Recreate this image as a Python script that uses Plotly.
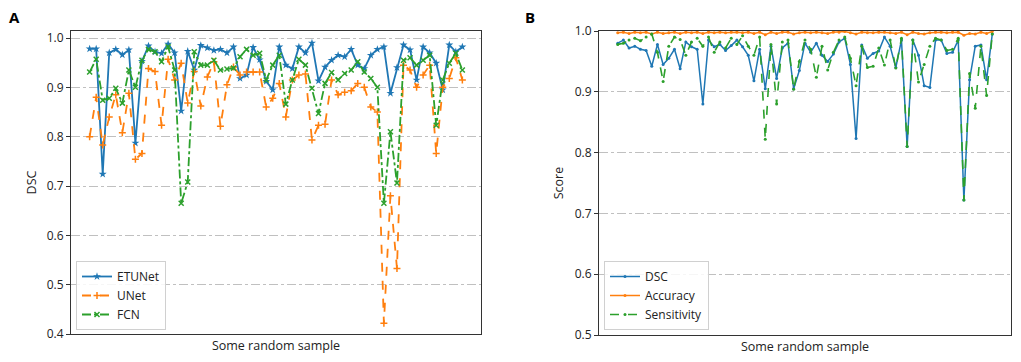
import plotly.graph_objects as go

# ---------------- Panel A data ----------------
etunet = [0.978, 0.978, 0.724, 0.970, 0.977, 0.966, 0.976, 0.787, 0.953, 0.984,
          0.972, 0.969, 0.988, 0.970, 0.852, 0.973, 0.935, 0.985, 0.980, 0.975,
          0.977, 0.970, 0.982, 0.918, 0.925, 0.981, 0.956, 0.912, 0.895, 0.982,
          0.945, 0.938, 0.982, 0.970, 0.990, 0.913, 0.941, 0.955, 0.965, 0.962,
          0.977, 0.945, 0.938, 0.965, 0.977, 0.982, 0.888, 0.940, 0.986, 0.976,
          0.915, 0.982, 0.970, 0.949, 0.895, 0.986, 0.972, 0.982]
unet = [0.800, 0.880, 0.783, 0.840, 0.885, 0.808, 0.888, 0.754, 0.766, 0.938,
        0.932, 0.823, 0.957, 0.915, 0.949, 0.868, 0.932, 0.862, 0.921, 0.952,
        0.821, 0.905, 0.941, 0.925, 0.931, 0.931, 0.931, 0.860, 0.878, 0.908,
        0.840, 0.915, 0.925, 0.927, 0.793, 0.823, 0.825, 0.915, 0.885, 0.890,
        0.893, 0.908, 0.900, 0.860, 0.850, 0.422, 0.680, 0.533, 0.945, 0.935,
        0.900, 0.925, 0.945, 0.766, 0.900, 0.918, 0.960, 0.915]
fcn = [0.931, 0.957, 0.874, 0.878, 0.898, 0.868, 0.935, 0.900, 0.955, 0.977,
       0.972, 0.952, 0.982, 0.935, 0.665, 0.708, 0.972, 0.945, 0.945, 0.955,
       0.935, 0.937, 0.939, 0.962, 0.977, 0.965, 0.969, 0.915, 0.945, 0.965,
       0.866, 0.915, 0.957, 0.945, 0.898, 0.847, 0.908, 0.930, 0.915, 0.928,
       0.935, 0.952, 0.931, 0.918, 0.900, 0.665, 0.810, 0.706, 0.955, 0.960,
       0.945, 0.955, 0.965, 0.823, 0.915, 0.949, 0.969, 0.935]

# ---------------- Panel B data ----------------
dsc_b = [0.980, 0.985, 0.972, 0.975, 0.970, 0.968, 0.942, 0.978, 0.945, 0.955,
         0.970, 0.938, 0.982, 0.974, 0.970, 0.880, 0.985, 0.974, 0.978, 0.968,
         0.976, 0.985, 0.974, 0.960, 0.918, 0.970, 0.905, 0.975, 0.922, 0.972,
         0.980, 0.905, 0.935, 0.980, 0.965, 0.980, 0.960, 0.950, 0.962, 0.982,
         0.988, 0.945, 0.823, 0.977, 0.955, 0.963, 0.967, 0.990, 0.975, 0.940,
         0.985, 0.810, 0.985, 0.960, 0.910, 0.907, 0.985, 0.985, 0.963, 0.965,
         0.985, 0.722, 0.920, 0.975, 0.977, 0.920, 0.995]
acc_b = [0.997, 0.998, 0.996, 0.998, 0.997, 0.998, 0.995, 0.998, 0.996, 0.997,
         0.998, 0.996, 0.998, 0.997, 0.998, 0.996, 0.998, 0.997, 0.998, 0.997,
         0.998, 0.998, 0.997, 0.998, 0.996, 0.998, 0.994, 0.998, 0.996, 0.998,
         0.998, 0.995, 0.997, 0.998, 0.997, 0.998, 0.997, 0.996, 0.998, 0.998,
         0.999, 0.997, 0.995, 0.998, 0.997, 0.997, 0.998, 0.998, 0.997, 0.996,
         0.998, 0.994, 0.998, 0.996, 0.995, 0.997, 0.998, 0.998, 0.997, 0.998,
         0.998, 0.993, 0.996, 0.995, 0.998, 0.996, 0.999]
sens_b = [0.978, 0.980, 0.985, 0.988, 0.984, 0.990, 0.995, 0.965, 0.917, 0.975,
          0.990, 0.986, 0.960, 0.982, 0.988, 0.975, 0.990, 0.965, 0.982, 0.972,
          0.988, 0.978, 0.992, 0.975, 0.960, 0.990, 0.822, 0.978, 0.880, 0.982,
          0.985, 0.904, 0.950, 0.985, 0.970, 0.924, 0.975, 0.936, 0.965, 0.985,
          0.990, 0.955, 0.910, 0.975, 0.940, 0.942, 0.972, 0.944, 0.985, 0.939,
          0.988, 0.810, 0.985, 0.916, 0.945, 0.975, 0.988, 0.985, 0.968, 0.970,
          0.988, 0.722, 0.930, 0.873, 0.975, 0.894, 0.995]

yticks_a = [0.4, 0.5, 0.6, 0.7, 0.8, 0.9, 1.0]
yticks_b = [0.5, 0.6, 0.7, 0.8, 0.9, 1.0]

BLUE, ORANGE, GREEN = "#1f77b4", "#ff7f0e", "#2ca02c"
FONT = "Open Sans"
W, H = 1021, 362
OFF = 8  # page body margin


def px(x):
    return (x - OFF) / W


def py(y):
    return (H - (y - OFF)) / H


fig = go.Figure()

fig.add_trace(go.Scatter(x=list(range(len(etunet))), y=etunet, name="ETUNet", mode="lines+markers",
                         line=dict(color=BLUE, width=1.8),
                         marker=dict(symbol="star", size=6, color=BLUE),
                         xaxis="x", yaxis="y", legend="legend"))
fig.add_trace(go.Scatter(x=list(range(len(unet))), y=unet, name="UNet", mode="lines+markers",
                         line=dict(color=ORANGE, width=1.8, dash="dash"),
                         marker=dict(symbol="cross-thin-open", size=5, color=ORANGE,
                                     line=dict(color=ORANGE, width=1.5)),
                         xaxis="x", yaxis="y", legend="legend"))
fig.add_trace(go.Scatter(x=list(range(len(fcn))), y=fcn, name="FCN", mode="lines+markers",
                         line=dict(color=GREEN, width=1.8, dash="dashdot"),
                         marker=dict(symbol="x-thin-open", size=5, color=GREEN,
                                     line=dict(color=GREEN, width=1.5)),
                         xaxis="x", yaxis="y", legend="legend"))

fig.add_trace(go.Scatter(x=list(range(len(dsc_b))), y=dsc_b, name="DSC", mode="lines+markers",
                         line=dict(color=BLUE, width=1.5),
                         marker=dict(symbol="circle", size=3, color=BLUE),
                         xaxis="x2", yaxis="y2", legend="legend2"))
fig.add_trace(go.Scatter(x=list(range(len(acc_b))), y=acc_b, name="Accuracy", mode="lines+markers",
                         line=dict(color=ORANGE, width=1.5),
                         marker=dict(symbol="circle", size=3, color=ORANGE),
                         xaxis="x2", yaxis="y2", legend="legend2"))
fig.add_trace(go.Scatter(x=list(range(len(sens_b))), y=sens_b, name="Sensitivity", mode="lines+markers",
                         line=dict(color=GREEN, width=1.6, dash="dash"),
                         marker=dict(symbol="circle", size=3, color=GREEN),
                         xaxis="x2", yaxis="y2", legend="legend2"))

na = len(etunet) - 1
nb = len(dsc_b) - 1
axis_common = dict(showline=True, mirror=True, linecolor="#333333", linewidth=1,
                   zeroline=False, automargin=False)
fig.update_layout(
    width=W, height=H,
    margin=dict(l=0, r=0, t=0, b=0, autoexpand=False),
    paper_bgcolor="white", plot_bgcolor="white",
    font=dict(family=FONT, size=12, color="#222222"),
    xaxis=dict(domain=[px(71), px(481)], range=[-0.05 * na, 1.05 * na],
               showgrid=False, showticklabels=False, ticks="",
               title=dict(text="Some random sample", standoff=7, font=dict(size=12.5)),
               anchor="y", **axis_common),
    yaxis=dict(domain=[py(334), py(31)], range=[0.4, 1.0142],
               tickvals=yticks_a, ticktext=[f"{v:.1f}" for v in yticks_a],
               ticks="outside", ticklen=4, tickcolor="#333333",
               showgrid=True, gridcolor="#c0c0c0", gridwidth=1, griddash="dashdot",
               title=dict(text="DSC", standoff=7, font=dict(size=12.5)),
               anchor="x", **axis_common),
    xaxis2=dict(domain=[px(599), px(1011)], range=[-0.05 * nb, 1.05 * nb],
                showgrid=False, showticklabels=False, ticks="",
                title=dict(text="Some random sample", standoff=7, font=dict(size=12.5)),
                anchor="y2", **axis_common),
    yaxis2=dict(domain=[py(335), py(31)], range=[0.5, 1.0],
                tickvals=yticks_b, ticktext=[f"{v:.1f}" for v in yticks_b],
                ticks="outside", ticklen=4, tickcolor="#333333",
                showgrid=True, gridcolor="#c0c0c0", gridwidth=1, griddash="dashdot",
                title=dict(text="Score", standoff=8, font=dict(size=12.5)),
                anchor="x2", **axis_common),
    legend=dict(x=px(76), y=py(330), xanchor="left", yanchor="bottom",
                bgcolor="rgba(255,255,255,0.85)", bordercolor="#d0d0d0", borderwidth=1,
                font=dict(size=12), tracegroupgap=0, itemwidth=30),
    legend2=dict(x=px(604), y=py(330), xanchor="left", yanchor="bottom",
                 bgcolor="rgba(255,255,255,0.85)", bordercolor="#d0d0d0", borderwidth=1,
                 font=dict(size=12), tracegroupgap=0, itemwidth=30),
    showlegend=True,
    annotations=[
        dict(text="<b>A</b>", x=px(14), y=py(17), xref="paper", yref="paper",
             showarrow=False, font=dict(size=15, color="black"), xanchor="center", yanchor="middle"),
        dict(text="<b>B</b>", x=px(530), y=py(17), xref="paper", yref="paper",
             showarrow=False, font=dict(size=15, color="black"), xanchor="center", yanchor="middle"),
    ],
)

fig.write_html("out.html")
